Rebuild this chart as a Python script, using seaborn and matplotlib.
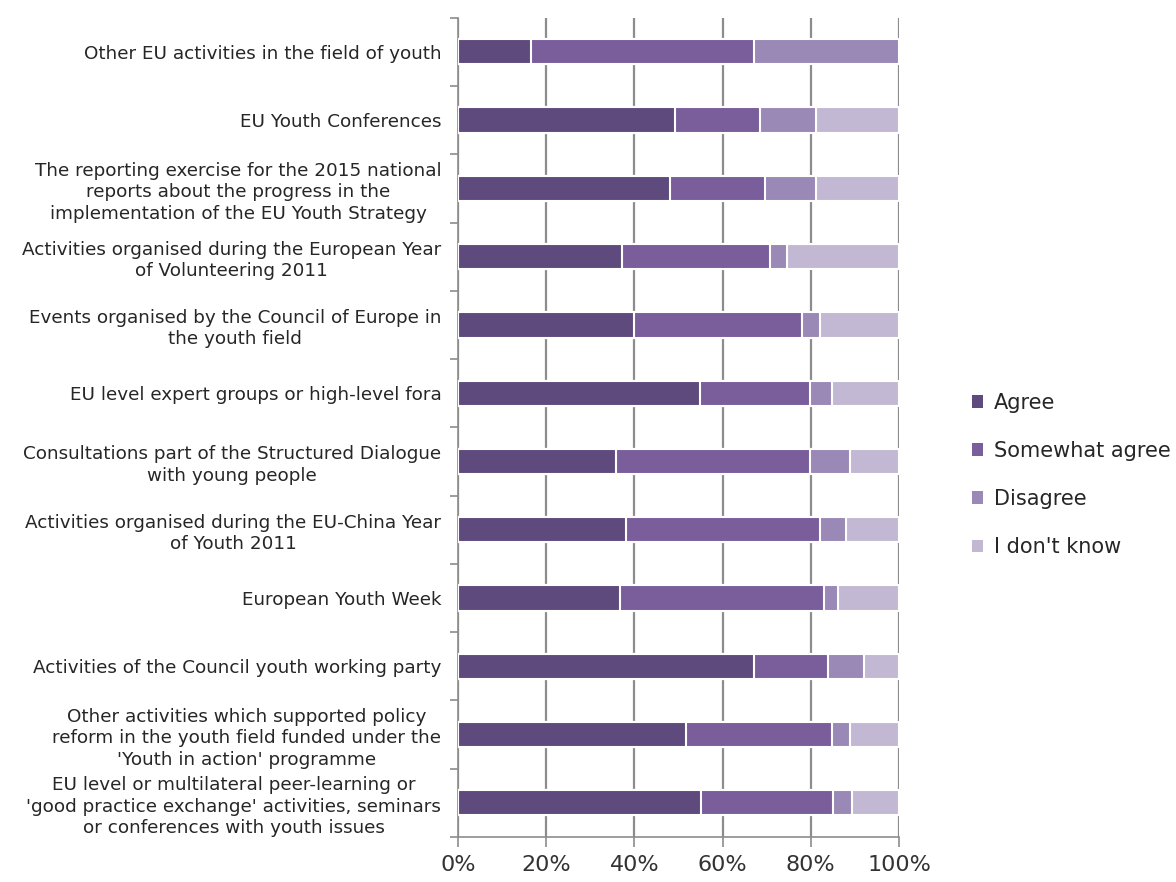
import matplotlib
matplotlib.use("Agg")
import matplotlib.pyplot as plt
from matplotlib.patches import Patch
import numpy as np
import pandas as pd
import seaborn as sns

categories = [
    "Other EU activities in the field of youth",
    "EU Youth Conferences",
    "The reporting exercise for the 2015 national\nreports about the progress in the\nimplementation of the EU Youth Strategy",
    "Activities organised during the European Year\nof Volunteering 2011",
    "Events organised by the Council of Europe in\nthe youth field",
    "EU level expert groups or high-level fora",
    "Consultations part of the Structured Dialogue\nwith young people",
    "Activities organised during the EU-China Year\nof Youth 2011",
    "European Youth Week",
    "Activities of the Council youth working party",
    "Other activities which supported policy\nreform in the youth field funded under the\n'Youth in action' programme",
    "EU level or multilateral peer-learning or\n'good practice exchange' activities, seminars\nor conferences with youth issues",
]
agree = [16.6, 49.3, 48.0, 37.3, 39.8, 54.8, 35.8, 38.2, 36.7, 67.1, 51.7, 55.2]
somewhat_agree = [50.5, 19.1, 21.7, 33.4, 38.3, 25.0, 44.0, 43.9, 46.3, 16.9, 33.2, 29.9]
disagree = [32.9, 12.7, 11.4, 4.0, 4.0, 5.1, 9.1, 5.9, 3.2, 8.1, 4.0, 4.2]
dont_know = [0.0, 18.9, 18.9, 25.3, 17.9, 15.1, 11.1, 12.0, 13.8, 7.9, 11.1, 10.7]

series_names = ["Agree", "Somewhat agree", "Disagree", "I don't know"]
colors = ["#5f4a7d", "#7a5e9b", "#9a88b6", "#c2b8d4"]
x_ticks = [0, 20, 40, 60, 80, 100]
x_ticklabels = ["0%", "20%", "40%", "60%", "80%", "100%"]

sns.set_theme(style="white")
plt.rcParams["font.family"] = ["DejaVu Sans"]

df = pd.DataFrame({
    "category": categories,
    "Agree": agree,
    "Somewhat agree": somewhat_agree,
    "Disagree": disagree,
    "I don't know": dont_know,
})
cum = df[series_names].cumsum(axis=1).assign(category=categories)

fig = plt.figure(figsize=(11.76, 8.82), dpi=100)
ax = fig.add_axes([458 / 1176, 1 - 837 / 882, (899 - 458) / 1176, (837 - 17.7) / 882])

for name, col in reversed(list(zip(series_names, colors))):
    sns.barplot(data=cum, x=name, y="category",
                order=categories, orient="h", color=col, width=0.37,
                edgecolor="white", linewidth=1.5, ax=ax, zorder=3,
                saturation=1)

ax.set_xlim(0, 100)
ax.set_ylim(11.5, -0.5)
ax.set_xlabel("")
ax.set_ylabel("")
ax.set_xticks(x_ticks)
ax.set_xticklabels(x_ticklabels, fontsize=16, color="#333333")
ax.xaxis.grid(True, color="#8c8c8c", linewidth=1.6, zorder=0)
ax.yaxis.grid(False)
ax.set_axisbelow(True)

ax.set_yticks(range(len(categories)))
ax.set_yticklabels(categories, fontsize=13.2, color="#262626", linespacing=1.25)
for lbl in ax.get_yticklabels():
    lbl.set_multialignment("center")
ax.set_yticks(np.arange(-0.5, len(categories), 1.0), minor=True)
ax.tick_params(axis="y", which="major", length=0, pad=12)
ax.tick_params(axis="y", which="minor", length=6, color="#8c8c8c", width=1.2, left=True)
ax.tick_params(axis="x", which="major", length=7, color="#8c8c8c", width=1.2, bottom=True, pad=6)

for side in ["top", "right"]:
    ax.spines[side].set_visible(False)
for side in ["left", "bottom"]:
    ax.spines[side].set_color("#8c8c8c")
    ax.spines[side].set_linewidth(1.2)

handles = [Patch(facecolor=c, edgecolor="none", label=n) for n, c in zip(series_names, colors)]
fig.legend(handles=handles, loc="center left", bbox_to_anchor=(972 / 1176, 1 - 475 / 882),
           frameon=False, fontsize=15, handlelength=0.55, handleheight=0.55,
           handletextpad=0.5, labelspacing=1.35, labelcolor="#262626", borderaxespad=0,
           borderpad=0)

fig.savefig("out.png", dpi=100)
